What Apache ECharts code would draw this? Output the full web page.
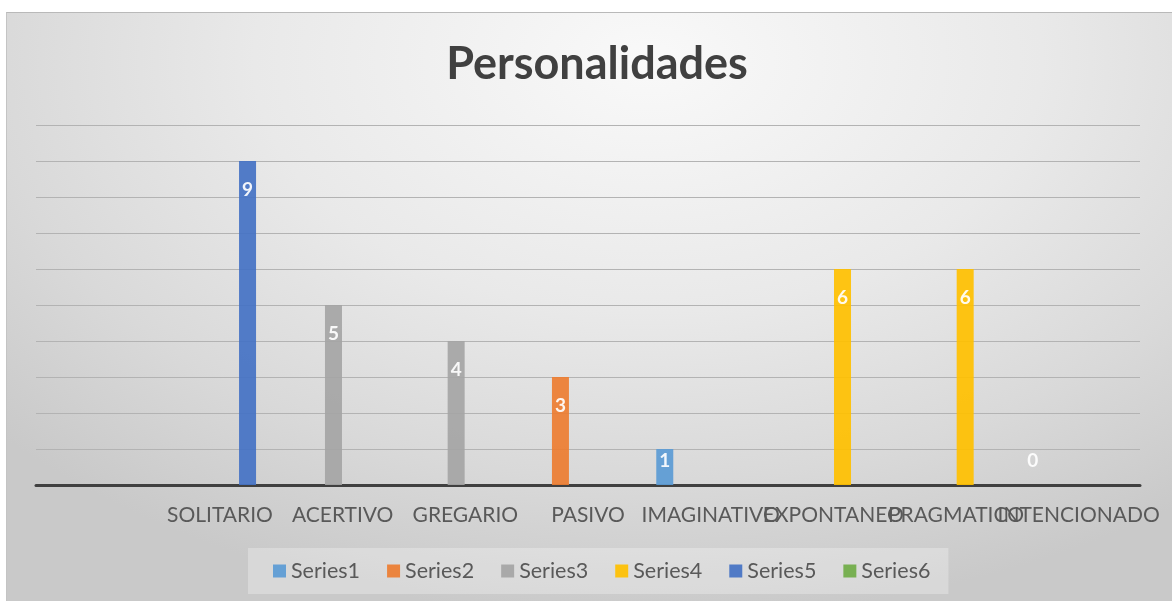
<!DOCTYPE html>
<html lang="es">
<head>
    <meta charset="UTF-8">
    <title>Personalidades</title>
    <style>
        *{
            padding:0;
            margin:0;
        }
        body{
            background:#ffffff;
            width:1172px;
            height:601px;
            position:relative;
            overflow:hidden;
        }
        #frame{
            position:absolute;
            left:6px;
            top:12px;
            width:1166px;
            height:589px;
            border-top:1px solid #b9b9b9;
            border-left:1px solid #c4c4c4;
            background:radial-gradient(ellipse 75% 95% at 55% 8%, #f9f9f9 0%, #e9e9e9 45%, #d9d9d9 75%, #c9c9c9 100%);
        }
        #main{
            position:absolute;
            left:0;
            top:0;
            width:1172px;
            height:601px;
        }
    </style>
</head>
<script src="https://cdn.jsdelivr.net/npm/echarts@6/dist/echarts.min.js"></script>
<body>
    <div id="frame"></div>
    <div id="main"></div>
    <script>
        var categories = ['', 'SOLITARIO', 'ACERTIVO', 'GREGARIO', 'PASIVO', 'IMAGINATIVO', 'EXPONTANEO', 'PRAGMATICO', 'INTENCIONADO'];
        var seriesNames = ['Series1', 'Series2', 'Series3', 'Series4', 'Series5', 'Series6'];
        var series1 = ['-', '-', '-', '-', '-', 1, '-', '-', 0];
        var series2 = ['-', '-', '-', '-', 3, '-', '-', '-', '-'];
        var series3 = ['-', '-', 5, 4, '-', '-', '-', '-', '-'];
        var series4 = ['-', '-', '-', '-', '-', '-', 6, 6, '-'];
        var series5 = ['-', 9, '-', '-', '-', '-', '-', '-', '-'];
        var series6 = ['-', '-', '-', '-', '-', '-', '-', '-', '-'];
        var colors = ['#5b9bd5', '#ed7d31', '#a5a5a5', '#ffc000', '#4472c4', '#70ad47'];

        var allData = [series1, series2, series3, series4, series5, series6];

        // etiquetas de barras muy bajas van abajo, como en Excel
        var toItems = function (arr) {
            return arr.map(function (v) {
                if (v !== '-' && v <= 1) {
                    return {value: v, label: {position: 'insideBottom', distance: 15}};
                }
                return v;
            });
        };

        var seriesList = [];
        for (var i = 0; i < seriesNames.length; i++) {
            seriesList.push({
                name: seriesNames[i],
                type: 'bar',
                barWidth: 17,
                barGap: '8%',
                data: toItems(allData[i]),
                itemStyle: {
                    color: colors[i],
                    opacity: 0.92
                },
                label: {
                    show: true,
                    position: 'insideTop',
                    distance: 19,
                    color: '#ffffff',
                    fontSize: 19,
                    fontWeight: 'bold',
                    fontFamily: 'Lato'
                }
            });
        }

        var myChart = echarts.init(document.getElementById('main'));
        var option = {
            backgroundColor: 'transparent',
            animation: false,
            color: colors,
            title: {
                text: 'Personalidades',
                left: 592,
                top: 37,
                textAlign: 'center',
                textStyle: {
                    color: '#404040',
                    fontSize: 45,
                    fontWeight: 'bold',
                    fontFamily: 'Lato'
                }
            },
            legend: {
                data: seriesNames,
                left: 248,
                top: 548,
                itemWidth: 13,
                itemHeight: 13,
                itemGap: 27,
                icon: 'rect',
                padding: [12, 18, 12, 25],
                backgroundColor: 'rgba(255,255,255,0.28)',
                textStyle: {
                    color: '#595959',
                    fontSize: 21.5,
                    fontFamily: 'Lato'
                }
            },
            grid: {
                left: 36,
                right: 32,
                top: 125,
                bottom: 116,
                containLabel: false
            },
            xAxis: {
                type: 'category',
                data: categories,
                axisTick: {show: false},
                axisLine: {
                    lineStyle: {color: '#404040', width: 3}
                },
                axisLabel: {
                    interval: 0,
                    hideOverlap: false,
                    color: '#595959',
                    fontSize: 21,
                    fontFamily: 'Lato',
                    margin: 20
                }
            },
            yAxis: {
                type: 'value',
                min: 0,
                max: 10,
                interval: 1,
                axisLabel: {show: false},
                axisLine: {show: false},
                axisTick: {show: false},
                splitLine: {
                    lineStyle: {color: '#b3b3b3', width: 1}
                }
            },
            series: seriesList
        };
        myChart.setOption(option);
    </script>
</body>
</html>
